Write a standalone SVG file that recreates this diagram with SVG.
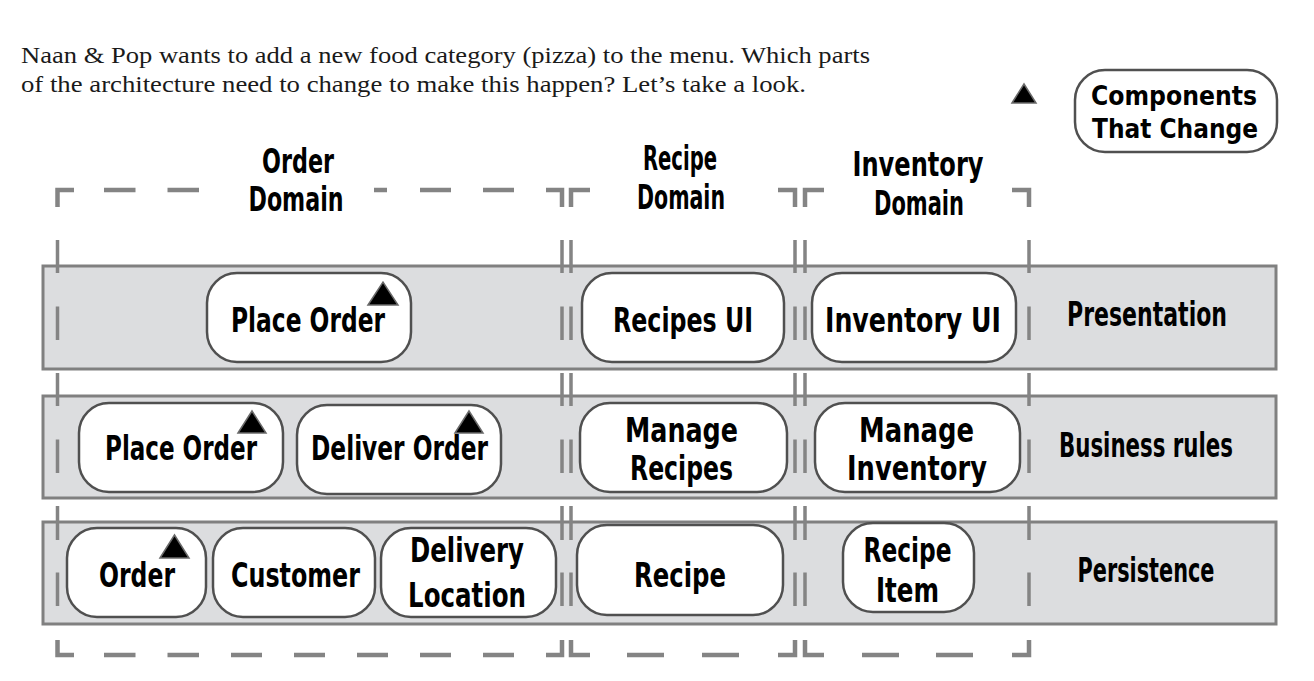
<svg xmlns="http://www.w3.org/2000/svg" width="1314" height="681" viewBox="0 0 1314 681">
<defs>
<style>
.band{fill:#dcdddf;stroke:#808080;stroke-width:3}
.node{fill:#fff;stroke:#505050;stroke-width:2.5}
.dl{fill:none;stroke:#848484;stroke-width:3.5}
.dh{fill:none;stroke:#848484;stroke-width:4.5}
.hw{font-family:"Liberation Sans Narrow","DejaVu Sans Condensed","Liberation Sans",sans-serif;font-weight:bold;font-size:34px;fill:#000;text-anchor:middle}
.lg{font-size:27px}
.para{font-family:"Liberation Serif","Times New Roman",serif;font-size:23px;fill:#1a1a1a}
.tri{fill:#000;stroke:#6a6a6a;stroke-width:1.5;stroke-linejoin:miter}
</style>
</defs>
<rect width="1314" height="681" fill="#fff"/>
<g id="intro">
<text class="para" x="21" y="63" textLength="849" lengthAdjust="spacingAndGlyphs">Naan &amp; Pop wants to add a new food category (pizza) to the menu. Which parts</text>
<text class="para" x="21" y="92" textLength="785" lengthAdjust="spacingAndGlyphs">of the architecture need to change to make this happen? Let’s take a look.</text>
</g>
<g id="legend">
<polygon class="tri" points="1012,103 1024,84 1036,103"/>
<rect class="node" x="1075" y="70" width="202" height="82" rx="30"/>
<text class="hw lg" x="1174" y="105" textLength="166" lengthAdjust="spacingAndGlyphs">Components</text>
<text class="hw lg" x="1175" y="138" textLength="166" lengthAdjust="spacingAndGlyphs">That Change</text>
</g>
<g id="layers">
<rect id="presentation-layer" class="band" x="43" y="266" width="1233" height="103"/>
<rect id="business-layer" class="band" x="43" y="396" width="1233" height="102"/>
<rect id="persistence-layer" class="band" x="43" y="522" width="1233" height="102"/>
</g>
<g id="domain-boundaries">
<path class="dl" d="M57.5 240V273M57.5 306.5V340M57.5 373V406M57.5 439.5V473M57.5 506V540M57.5 572.5V606"/>
<path class="dl" d="M562 240V273M562 306.5V340M562 373V406M562 439.5V473M562 506V540M562 572.5V606"/>
<path class="dl" d="M571 240V273M571 306.5V340M571 373V406M571 439.5V473M571 506V540M571 572.5V606"/>
<path class="dl" d="M795 240V273M795 306.5V340M795 373V406M795 439.5V473M795 506V540M795 572.5V606"/>
<path class="dl" d="M805 240V273M805 306.5V340M805 373V406M805 439.5V473M805 506V540M805 572.5V606"/>
<path class="dl" d="M1029 240V273M1029 306.5V340M1029 373V406M1029 439.5V473M1029 506V540M1029 572.5V606"/>
<path class="dh" d="M74 190H57.5V207M546 190H562V207M590 190H571V207M778 190H795V207M824 190H805V207M1012 190H1029V207"/>
<path class="dh" d="M57.5 640V655H74M562 640V655H546M571 640V655H590M795 640V655H778M805 640V655H824M1029 640V655H1012"/>
<path class="dh" d="M104 190H135.5M167.5 190H199M374 190H387M420 190H451M483 190H514"/>
<path class="dh" d="M104 655H135.5M167.5 655H199M231 655H262M294 655H325M357 655H388M420 655H451M483 655H514M627 655H664M702 655H739M862 655H899M936 655H973"/>
<text class="hw" x="298" y="173" textLength="72" lengthAdjust="spacingAndGlyphs">Order</text>
<text class="hw" x="296" y="211" textLength="95" lengthAdjust="spacingAndGlyphs">Domain</text>
<text class="hw" x="680" y="170" textLength="74" lengthAdjust="spacingAndGlyphs">Recipe</text>
<text class="hw" x="681" y="209" textLength="88" lengthAdjust="spacingAndGlyphs">Domain</text>
<text class="hw" x="918" y="176" textLength="131" lengthAdjust="spacingAndGlyphs">Inventory</text>
<text class="hw" x="919" y="215" textLength="90" lengthAdjust="spacingAndGlyphs">Domain</text>
</g>
<g id="layer-labels">
<text class="hw" x="1147" y="326" textLength="160" lengthAdjust="spacingAndGlyphs">Presentation</text>
<text class="hw" x="1146" y="457" textLength="174" lengthAdjust="spacingAndGlyphs">Business rules</text>
<text class="hw" x="1146" y="582" textLength="137" lengthAdjust="spacingAndGlyphs">Persistence</text>
</g>
<g id="place-order-ui">
<rect class="node" x="207" y="273" width="204" height="89" rx="30"/>
<text class="hw" x="308" y="332" textLength="154" lengthAdjust="spacingAndGlyphs">Place Order</text>
<polygon class="tri" points="368,305 383,282 398,305"/>
</g>
<g id="recipes-ui">
<rect class="node" x="582" y="273" width="202" height="89" rx="30"/>
<text class="hw" x="683" y="332" textLength="140" lengthAdjust="spacingAndGlyphs">Recipes UI</text>
</g>
<g id="inventory-ui">
<rect class="node" x="812" y="273" width="204" height="89" rx="30"/>
<text class="hw" x="913" y="332" textLength="176" lengthAdjust="spacingAndGlyphs">Inventory UI</text>
</g>
<g id="place-order-rules">
<rect class="node" x="79" y="403" width="204" height="89" rx="30"/>
<text class="hw" x="181" y="460" textLength="152" lengthAdjust="spacingAndGlyphs">Place Order</text>
<polygon class="tri" points="238,433 252,411 266,433"/>
</g>
<g id="deliver-order">
<rect class="node" x="297" y="405" width="204" height="89" rx="30"/>
<text class="hw" x="399.5" y="460" textLength="177" lengthAdjust="spacingAndGlyphs">Deliver Order</text>
<polygon class="tri" points="455,433 469,411 483,433"/>
</g>
<g id="manage-recipes">
<rect class="node" x="580" y="403" width="207" height="89" rx="30"/>
<text class="hw" x="681.5" y="442" textLength="113" lengthAdjust="spacingAndGlyphs">Manage</text>
<text class="hw" x="681.5" y="480" textLength="103" lengthAdjust="spacingAndGlyphs">Recipes</text>
</g>
<g id="manage-inventory">
<rect class="node" x="815" y="403" width="205" height="89" rx="30"/>
<text class="hw" x="916.5" y="442" textLength="115" lengthAdjust="spacingAndGlyphs">Manage</text>
<text class="hw" x="917" y="480" textLength="140" lengthAdjust="spacingAndGlyphs">Inventory</text>
</g>
<g id="order">
<rect class="node" x="67" y="528" width="139" height="89" rx="30"/>
<text class="hw" x="137" y="587" textLength="76" lengthAdjust="spacingAndGlyphs">Order</text>
<polygon class="tri" points="160,558 174.5,535 189,558"/>
</g>
<g id="customer">
<rect class="node" x="213" y="528" width="162" height="89" rx="30"/>
<text class="hw" x="295.5" y="587" textLength="129" lengthAdjust="spacingAndGlyphs">Customer</text>
</g>
<g id="delivery-location">
<rect class="node" x="381" y="528" width="175" height="89" rx="30"/>
<text class="hw" x="467" y="562" textLength="114" lengthAdjust="spacingAndGlyphs">Delivery</text>
<text class="hw" x="467" y="607" textLength="118" lengthAdjust="spacingAndGlyphs">Location</text>
</g>
<g id="recipe">
<rect class="node" x="577" y="525" width="206" height="90" rx="30"/>
<text class="hw" x="680" y="587" textLength="92" lengthAdjust="spacingAndGlyphs">Recipe</text>
</g>
<g id="recipe-item">
<rect class="node" x="843" y="523" width="131" height="89" rx="30"/>
<text class="hw" x="907.5" y="562" textLength="88" lengthAdjust="spacingAndGlyphs">Recipe</text>
<text class="hw" x="907.5" y="602" textLength="63" lengthAdjust="spacingAndGlyphs">Item</text>
</g>
<g id="connectors"></g>
</svg>
